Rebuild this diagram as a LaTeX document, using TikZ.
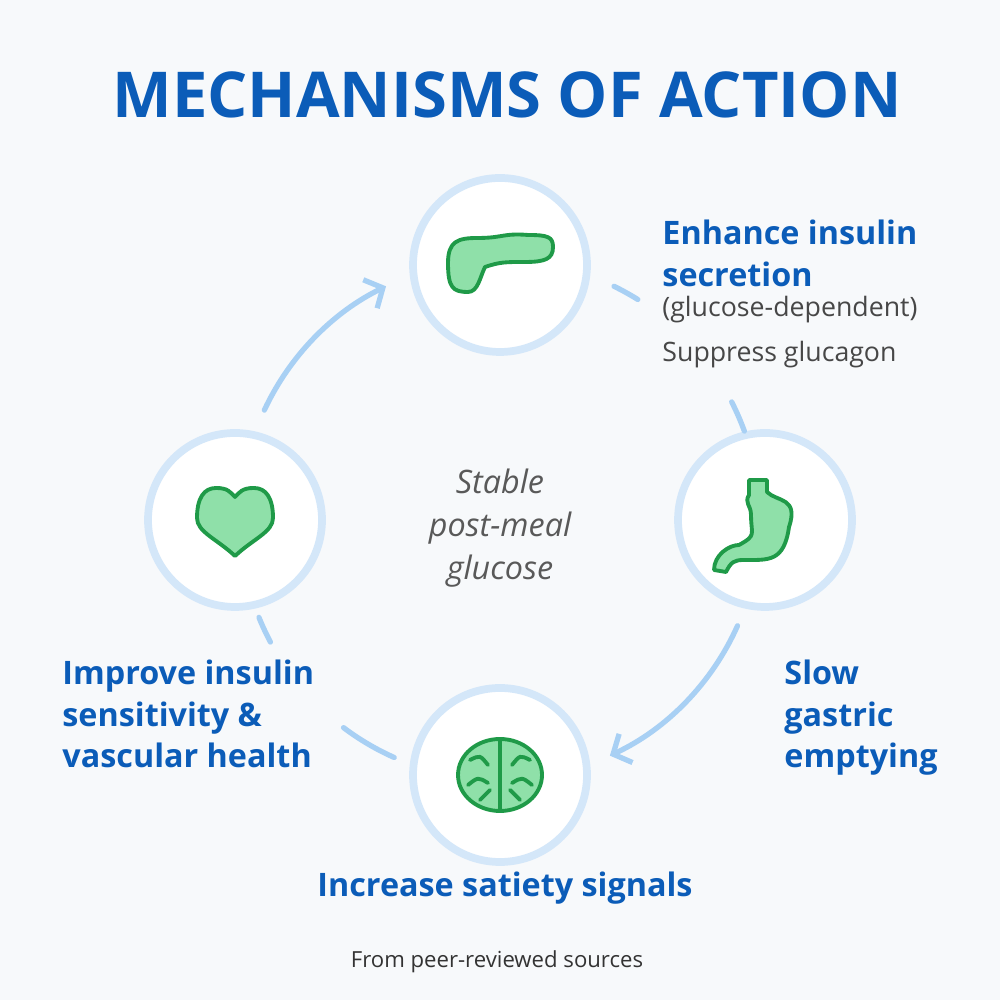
\documentclass[tikz,border=0pt]{standalone}
\usepackage{fontspec}
\setmainfont{Open Sans}
\usetikzlibrary{arrows.meta}
\definecolor{titleblue}{HTML}{0B5CB8}
\definecolor{ringblue}{HTML}{D4E7F9}
\definecolor{arcblue}{HTML}{A8D0F4}
\definecolor{leafgreen}{HTML}{8FE0A9}
\definecolor{darkgreen}{HTML}{1F9A48}
\definecolor{bggray}{HTML}{F7F9FB}
\tikzset{
  station/.style={circle, draw=ringblue, line width=2.2pt, fill=white, minimum size=1.74cm},
  flow/.style={arcblue, line width=1.5pt, line cap=round},
  icon/.style={fill=leafgreen, draw=darkgreen, line width=1.1pt, line join=round},
  head/.style={font=\bfseries\fontsize{9.2}{11.8}\selectfont, text=titleblue, align=left, anchor=north west},
  note/.style={font=\fontsize{7.6}{12.2}\selectfont, text=black!72, anchor=west}
}
\begin{document}
\begin{tikzpicture}
  \fill[bggray] (0,0) rectangle (10,10);
  \useasboundingbox (0,0) rectangle (10,10);

  \coordinate (hub) at (5,4.8);
  \node[station] (pancreas) at (5,7.35) {};
  \node[station] (stomach) at (7.65,4.8) {};
  \node[station] (brain) at (5,2.25) {};
  \node[station] (heart) at (2.35,4.8) {};

  % ring segments
  \draw[flow, -{Straight Barb[length=4pt,width=9pt]}] ([shift={(155:2.6)}]hub) arc (155:116:2.6);
  \draw[flow] ([shift={(64:2.6)}]hub) arc (64:58:2.6);
  \draw[flow] ([shift={(27:2.6)}]hub) arc (27:20:2.6);
  \draw[flow, -{Straight Barb[length=4pt,width=9pt]}] ([shift={(-24:2.6)}]hub) arc (-24:-65:2.6);
  \draw[flow] ([shift={(-114:2.6)}]hub) arc (-114:-127:2.6);
  \draw[flow] ([shift={(-158:2.6)}]hub) arc (-158:-152:2.6);

  % pancreas
  \draw[icon] ([shift={(-0.52,0.02)}]pancreas.center)
    .. controls +(0,0.22) and +(-0.2,0) .. ++(0.3,0.25)
    .. controls +(0.25,0) and +(-0.25,0.02) .. ++(0.5,0.03)
    .. controls +(0.2,0) and +(0,0.1) .. ++(0.25,-0.12)
    .. controls +(0,-0.12) and +(0.2,0) .. ++(-0.28,-0.15)
    .. controls +(-0.2,0) and +(0.15,0.05) .. ++(-0.4,-0.05)
    .. controls +(-0.05,-0.1) and +(0.1,0) .. ++(-0.17,-0.25)
    .. controls +(-0.15,0) and +(0,-0.25) .. cycle;

  % stomach
  \draw[icon] ([shift={(0.02,0.4)}]stomach.center)
    -- ++(0,-0.12)
    .. controls +(0.1,-0.1) and +(0.1,0.3) .. ++(0.22,-0.35)
    .. controls +(-0.05,-0.35) and +(0.25,0) .. ++(-0.45,-0.33)
    .. controls +(-0.1,0) and +(0.05,0.1) .. ++(-0.18,-0.12)
    -- ++(-0.12,0.02)
    .. controls +(0,0.15) and +(-0.1,0) .. ++(0.25,0.25)
    .. controls +(0.18,0.1) and +(0,-0.2) .. ++(0.12,0.3)
    .. controls +(0,0.1) and +(-0.05,-0.08) .. ++(-0.02,0.2)
    -- ++(0,0.15) -- cycle;

  % heart
  \draw[icon] ([shift={(0,-0.36)}]heart.center)
    .. controls +(-0.18,0.17) and +(0,-0.14) .. ++(-0.38,0.38)
    .. controls +(0,0.2) and +(-0.12,0) .. ++(0.19,0.3)
    .. controls +(0.12,0) and +(-0.05,0.05) .. ++(0.19,-0.09)
    .. controls +(0.05,0.05) and +(-0.12,0) .. ++(0.19,0.09)
    .. controls +(0.12,0) and +(0,0.2) .. ++(0.19,-0.3)
    .. controls +(0,-0.14) and +(0.18,0.17) .. cycle;

  % brain
  \draw[icon] (brain.center) ellipse (0.42 and 0.36);
  \draw[darkgreen, line width=1.1pt, line cap=round]
    ([yshift=0.36cm]brain.center) -- ([yshift=-0.36cm]brain.center)
    ([shift={(-0.3,0.15)}]brain.center) .. controls +(0.1,0.05) .. ++(0.18,-0.05)
    ([shift={(-0.32,-0.1)}]brain.center) .. controls +(0.1,0.08) .. ++(0.2,0.02)
    ([shift={(-0.2,-0.25)}]brain.center) .. controls +(0.05,0.05) .. ++(0.1,0.1)
    ([shift={(0.3,0.15)}]brain.center) .. controls +(-0.1,0.05) .. ++(-0.18,-0.05)
    ([shift={(0.32,-0.1)}]brain.center) .. controls +(-0.1,0.08) .. ++(-0.2,0.02)
    ([shift={(0.2,-0.25)}]brain.center) .. controls +(-0.05,0.05) .. ++(-0.1,0.1);

  % texts
  \node[font=\bfseries\fontsize{18}{20}\selectfont, text=titleblue] (title) at (5.07,9.05) {MECHANISMS OF ACTION};
  \node[head] (secretion) at (6.5,7.92) {Enhance insulin\\secretion};
  \node[note] (glucdep) at (6.5,6.9) {(glucose-dependent)};
  \node[note] (glucagon) at (6.5,6.45) {Suppress glucagon};
  \node[head] (gastric) at (7.72,3.52) {Slow\\gastric\\emptying};
  \node[head] (sensitivity) at (0.5,3.52) {Improve insulin\\sensitivity \&\\vascular health};
  \node[font=\bfseries\fontsize{9.2}{11}\selectfont, text=titleblue] (satiety) at (5.05,1.12) {Increase satiety signals};
  \node[font=\itshape\fontsize{9.2}{12.2}\selectfont, text=black!65, align=center] (stable) at (5,4.72) {Stable\\post-meal\\glucose};
  \node[font=\fontsize{6.3}{8}\selectfont, text=black!80] (source) at (4.97,0.38) {From peer-reviewed sources};
\end{tikzpicture}
\end{document}
